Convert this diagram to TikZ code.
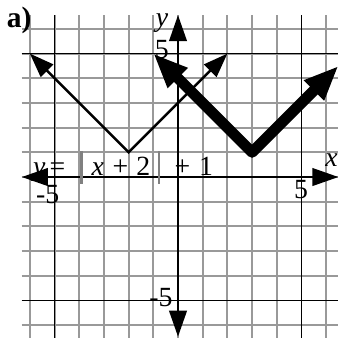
\documentclass[tikz,border=0pt]{standalone}
\usepackage{fontspec}
\setmainfont{Liberation Serif}
\usetikzlibrary{arrows.meta}
\newcommand{\absbar}{\textcolor{gray}{\rule[-4.6pt]{1.3pt}{19pt}}}

\begin{document}
\begin{tikzpicture}[x=0.5cm,y=0.5cm,font=\fontsize{16}{18}\selectfont]
\useasboundingbox (-7.21,-6.52) rectangle (6.48,7.17);
\clip (-7.21,-6.52) rectangle (6.48,7.17);
% grid
\foreach \k in {-6,...,6} {
  \draw[black!40,line width=1.1pt] (\k,-6.7) -- (\k,6.56);
  \draw[black!40,line width=1.1pt] (-6.33,\k) -- (6.7,\k);
}
% darker lines at -5 and 5
\foreach \k in {-5,5} {
  \draw[line width=0.8pt] (\k,-6.7) -- (\k,6.56);
  \draw[line width=0.8pt] (-6.33,\k) -- (6.7,\k);
}
% axes
\draw[{Triangle[length=15pt,width=10pt]}-{Triangle[length=15pt,width=10pt]},line width=1.6pt] (-6.33,0) -- (6.5,0);
\draw[{Triangle[length=15pt,width=10pt]}-{Triangle[length=15pt,width=10pt]},line width=1.6pt] (0,-6.47) -- (0,6.56);
% y = |x+2| + 1
\draw[{Triangle[length=14pt,width=10pt]}-{Triangle[length=14pt,width=10pt]},line width=1.4pt] (-6,5) -- (-2,1) -- (2,5);
% shifted graph (thick)
\draw[{Triangle[length=20pt,width=15pt]}-{Triangle[length=20pt,width=15pt]},line width=6.3pt,line join=round] (-1,5) -- (3,1) -- (6.5,4.5);
% labels
\node[font=\bfseries\fontsize{17}{19}\selectfont,anchor=base west,inner sep=0] (part) at (-6.95,6.07) {a)};
\node[anchor=base,inner sep=0] (ylab) at (-0.65,6.11) {\textit{y}};
\node[anchor=base,inner sep=0] (xlab) at (6.22,0.42) {\textit{x}};
\node[inner sep=0] (ytop) at (-0.66,5.18) {5};
\node[inner sep=0] (ybot) at (-0.69,-4.9) {-5};
\node[inner sep=0] (xright) at (4.98,-0.49) {5};
\node[inner sep=0] (xleft) at (-5.28,-0.72) {-5};
\node[anchor=base west,inner sep=0] (eqn) at (-5.88,0.05) {\textit{y}\hspace{2.3pt}=\hspace{8.7pt}\absbar\hspace{5.3pt}\textit{x}\hspace{4.9pt}+\hspace{4.7pt}2\hspace{4.6pt}\absbar\hspace{8.1pt}+\hspace{5.2pt}1};
\end{tikzpicture}
\end{document}
